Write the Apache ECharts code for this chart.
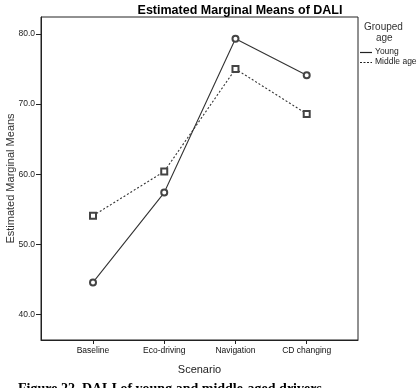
<!DOCTYPE html>
<html>
<head>
<meta charset="utf-8">
<script src="https://cdn.jsdelivr.net/npm/echarts@6/dist/echarts.min.js"></script>
<style>
  html, body { margin: 0; padding: 0; background: #fff; }
  #main { width: 420px; height: 388px; }
</style>
</head>
<body>
<div id="main"></div>
<script>
var scenarios = ["Baseline", "Eco-driving", "Navigation", "CD changing"];
var young = [44.6, 57.4, 79.3, 74.1];
var middleAge = [54.1, 60.4, 75.0, 68.6];
var yTicks = [40, 50, 60, 70, 80];

function pairs(vals) {
  return vals.map(function (v, i) { return [i, v]; });
}

var myChart = echarts.init(document.getElementById("main"));
myChart.setOption({
  animation: false,
  backgroundColor: "#fff",
  title: {
    text: "Estimated Marginal Means of DALI",
    left: 235,
    textAlign: "center",
    top: -1,
    textStyle: { fontFamily: "Liberation Sans", fontSize: 12.5, fontWeight: "bold", color: "#000" }
  },
  grid: {
    left: 41, top: 17, right: 62, bottom: 48,
    outerBoundsMode: "none",
    containLabel: false,
    show: true, borderColor: "#222", borderWidth: 1
  },
  xAxis: {
    type: "value",
    min: -0.73, max: 3.72,
    interval: 1,
    name: "Scenario",
    nameLocation: "middle",
    nameGap: 24,
    nameMoveOverlap: false,
    nameTextStyle: { fontFamily: "Liberation Sans", fontSize: 11, color: "#222" },
    axisLine: { show: true, onZero: false, lineStyle: { color: "#222" } },
    axisTick: { show: true, length: 4, inside: false, lineStyle: { color: "#222" },
      customValues: [0, 1, 2, 3] },
    axisLabel: {
      customValues: [0, 1, 2, 3],
      margin: 6,
      fontFamily: "Liberation Sans", fontSize: 8.5, color: "#111",
      formatter: function (v) { return scenarios[Math.round(v)] || ""; }
    },
    splitLine: { show: false }
  },
  yAxis: {
    type: "value",
    min: 36.4, max: 82.4,
    name: "Estimated Marginal Means",
    nameLocation: "middle",
    nameGap: 25,
    nameMoveOverlap: false,
    nameTextStyle: { fontFamily: "Liberation Sans", fontSize: 11, color: "#333" },
    axisLine: { show: true, onZero: false, lineStyle: { color: "#222" } },
    axisTick: { show: true, length: 5, lineStyle: { color: "#222" }, customValues: yTicks },
    axisLabel: {
      customValues: yTicks,
      margin: 6,
      fontFamily: "Liberation Sans", fontSize: 8.5, color: "#222",
      formatter: function (v) { return v.toFixed(1); }
    },
    splitLine: { show: false }
  },
  series: [
    {
      name: "Young",
      type: "line",
      data: pairs(young),
      symbol: "emptyCircle",
      symbolSize: 6,
      lineStyle: { color: "#333", width: 1.1, type: "solid" },
      itemStyle: { color: "#444", borderWidth: 0.8 }
    },
    {
      name: "Middle age",
      type: "line",
      data: pairs(middleAge),
      symbol: "emptyRect",
      symbolSize: 6,
      lineStyle: { color: "#333", width: 1.1, type: [2, 2] },
      itemStyle: { color: "#444", borderWidth: 0.8 }
    }
  ],
  graphic: [
    { type: "text", left: 364, top: 22, style: { text: "Grouped", font: "10px Liberation Sans", fill: "#333" } },
    { type: "text", left: 376, top: 33, style: { text: "age", font: "10px Liberation Sans", fill: "#333" } },
    { type: "line", shape: { x1: 360, y1: 52.5, x2: 372, y2: 52.5 }, style: { stroke: "#222", lineWidth: 1.2 } },
    { type: "text", left: 375, top: 47, style: { text: "Young", font: "8.5px Liberation Sans", fill: "#222" } },
    { type: "line", shape: { x1: 360, y1: 62.5, x2: 372, y2: 62.5 }, style: { stroke: "#222", lineWidth: 1.2, lineDash: [2, 1.5] } },
    { type: "text", left: 375, top: 57, style: { text: "Middle age", font: "8.5px Liberation Sans", fill: "#222" } },
    { type: "text", left: 18, top: 382, style: { text: "Figure 22. DALI of young and middle-aged drivers", font: "bold 14px Liberation Serif", fill: "#000" } }
  ]
});
</script>
</body>
</html>
